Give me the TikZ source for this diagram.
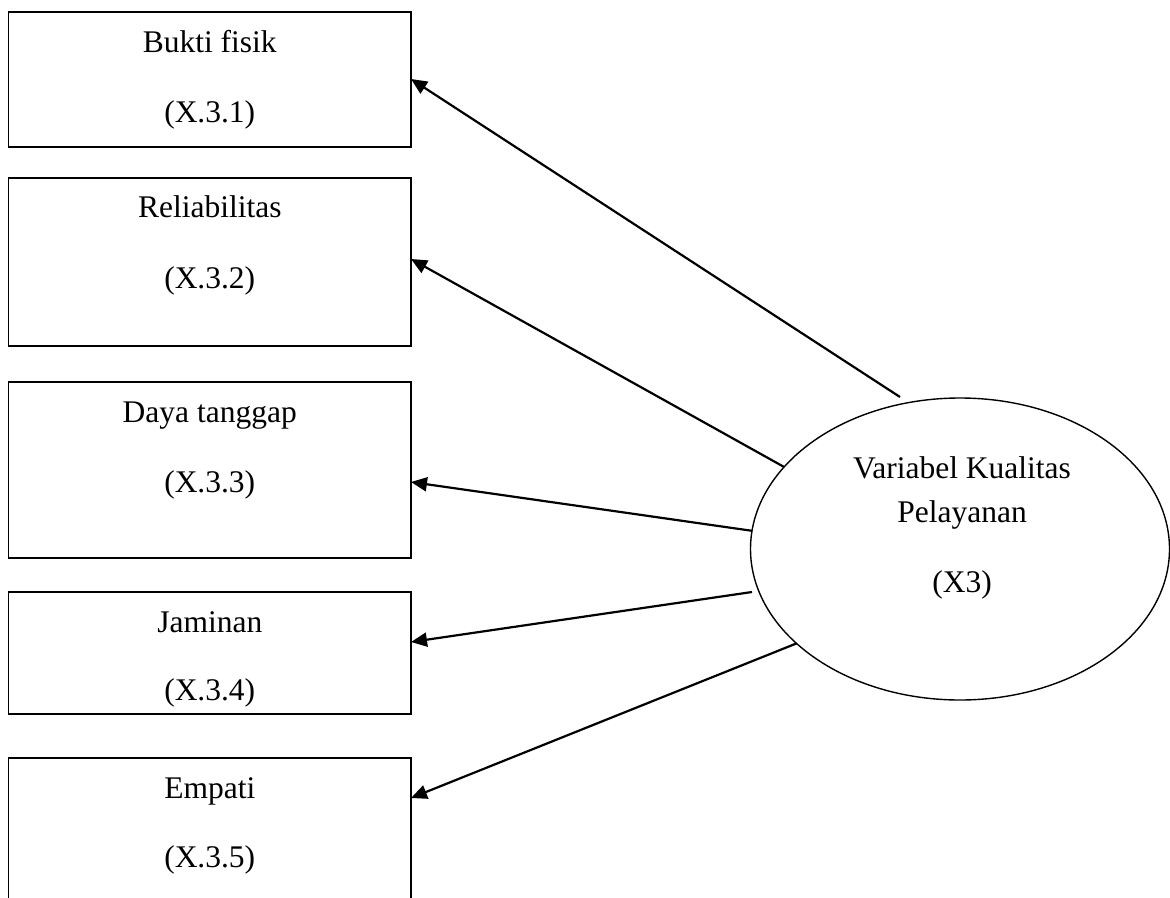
\documentclass[tikz,border=0pt]{standalone}
\usepackage{fontspec}
\setmainfont{Liberation Serif}[Ligatures=NoCommon]
\usetikzlibrary{shapes.geometric,arrows.meta}
\begin{document}
\begin{tikzpicture}[x=1pt,y=-1pt,
  indicator/.style={draw, line width=1.7pt, rectangle, minimum width=402.5pt,
    anchor=north west, inner sep=0pt, outer sep=0pt},
  latent/.style={draw, line width=1.4pt, ellipse, minimum width=419pt,
    minimum height=302pt, inner sep=0pt, outer sep=0pt},
  lbl/.style={anchor=base, inner sep=0pt, font=\fontsize{31.5}{36}\selectfont},
  loading/.style={line width=2.2pt, -{Triangle[length=16pt,width=14pt]}}
]
\useasboundingbox (0,0) rectangle (1170,897);

% indicator boxes
\node[indicator, minimum height=135pt] (b1) at (8.5,12) {};
\node[indicator, minimum height=168pt] (b2) at (8.5,178) {};
\node[indicator, minimum height=176pt] (b3) at (8.5,382) {};
\node[indicator, minimum height=122pt] (b4) at (8.5,592) {};
\node[indicator, minimum height=180pt] (b5) at (8.5,758) {};

% box labels
\node[lbl] (b1a) at ([yshift=-40pt]b1.north) {Bukti fisik};
\node[lbl] (b1b) at ([yshift=-110pt]b1.north) {(X.3.1)};
\node[lbl] (b2a) at ([yshift=-39pt]b2.north) {Reliabilitas};
\node[lbl] (b2b) at ([yshift=-110pt]b2.north) {(X.3.2)};
\node[lbl] (b3a) at ([yshift=-40pt]b3.north) {Daya tanggap};
\node[lbl] (b3b) at ([yshift=-110pt]b3.north) {(X.3.3)};
\node[lbl] (b4a) at ([yshift=-40pt]b4.north) {Jaminan};
\node[lbl] (b4b) at ([yshift=-108pt]b4.north) {(X.3.4)};
\node[lbl] (b5a) at ([yshift=-40pt]b5.north) {Empati};
\node[lbl] (b5b) at ([yshift=-109pt]b5.north) {(X.3.5)};

% latent variable
\node[latent] (v) at (960,549) {};
\node[lbl] (va) at ([shift={(2,-71)}]v.center) {Variabel Kualitas};
\node[lbl] (vb) at ([shift={(2,-27)}]v.center) {Pelayanan};
\node[lbl] (vc) at ([shift={(2,43)}]v.center) {(X3)};

% loadings
\draw[loading] ([shift={(-60,-152)}]v.center) -- ([yshift=-67pt]b1.north east);
\draw[loading] (v.155.1) -- ([yshift=-81pt]b2.north east);
\draw[loading] (v.175.6) -- ([yshift=-100pt]b3.north east);
\draw[loading] ([shift={(-208,43)}]v.center) -- ([yshift=-50pt]b4.north east);
\draw[loading] (v.210.6) -- ([yshift=-40pt]b5.north east);
\end{tikzpicture}
\end{document}
